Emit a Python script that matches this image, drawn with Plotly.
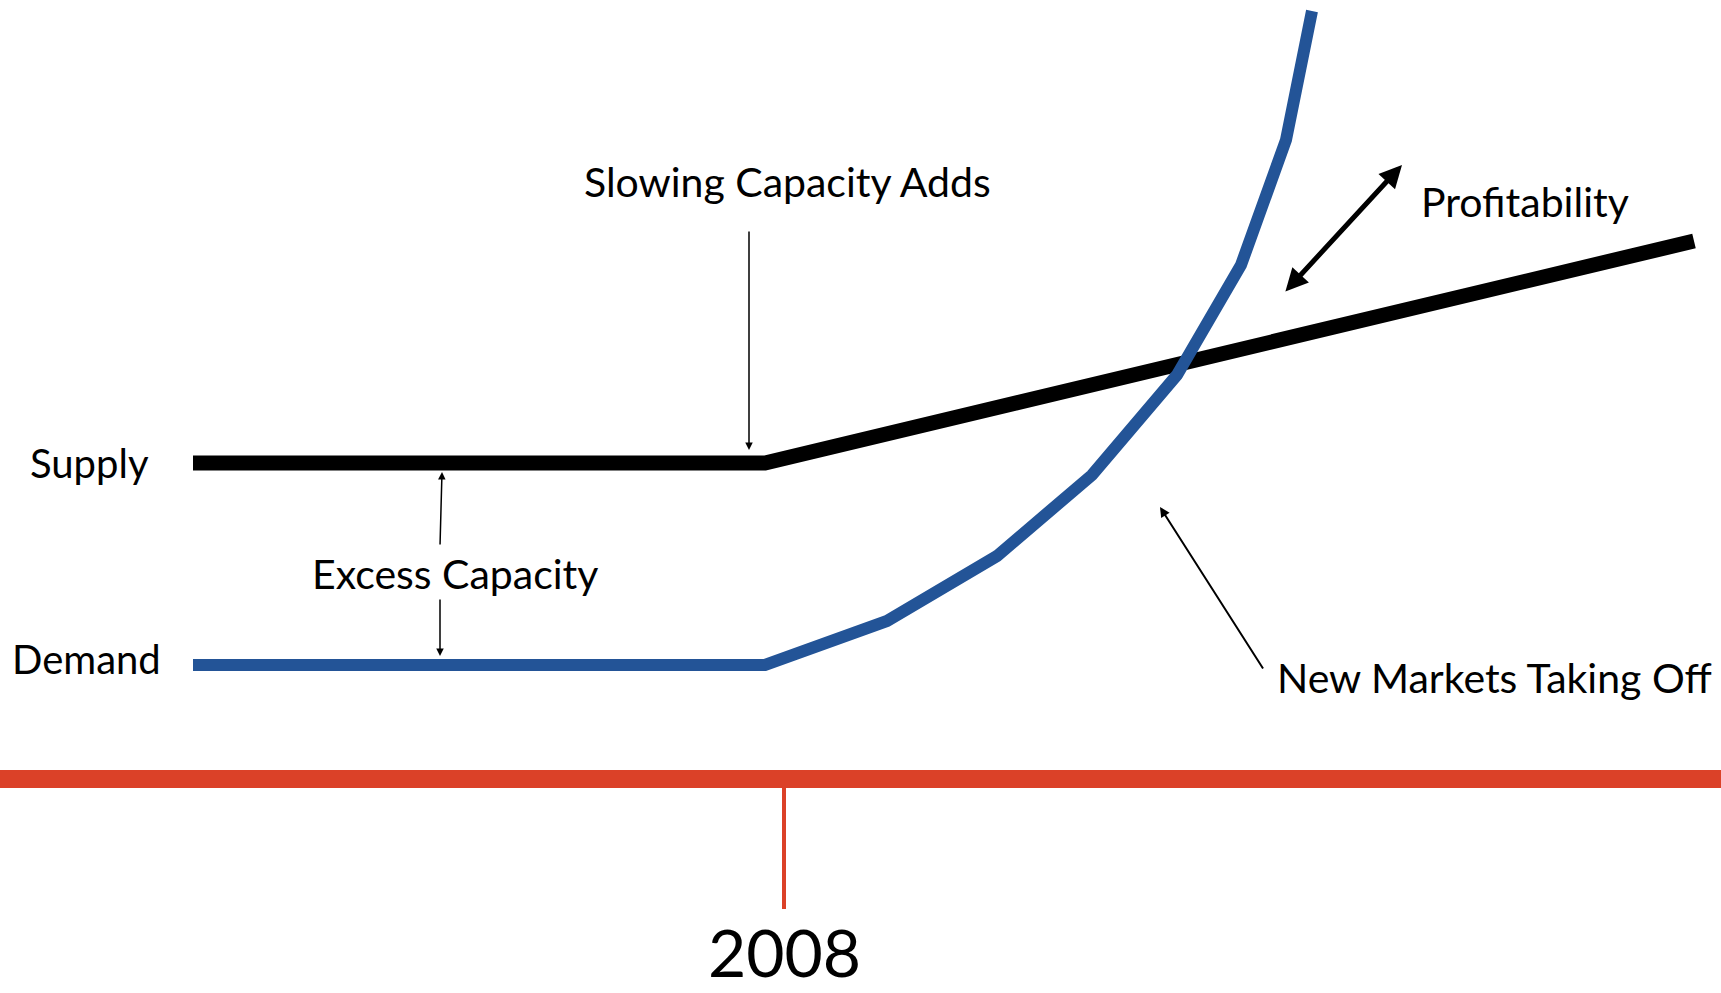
import plotly.graph_objects as go

# Canvas-like coordinate system (x to the right, y downward), in reference units
W, H = 1721, 993

# Series
supply_x = [193, 765, 1694]
supply_y = [463, 463, 241]
demand_x = [193, 765, 887, 997, 1092, 1177, 1241, 1286, 1312]
demand_y = [665, 665, 621, 556, 475, 375, 265, 140, 11]

# Timeline
timeline_x = [0, 1721]
timeline_y = [779, 779]
tick_label = "2008"
tick_x = 784
tick_y = [788, 909]

RED = "#DB4128"
BLUE = "#235497"
FONT = "Lato"

fig = go.Figure()
fig.add_trace(go.Scatter(x=timeline_x, y=timeline_y, mode="lines",
                         line=dict(color=RED, width=18), hoverinfo="skip"))
fig.add_trace(go.Scatter(x=[tick_x, tick_x], y=tick_y, mode="lines",
                         line=dict(color=RED, width=4), hoverinfo="skip"))
fig.add_trace(go.Scatter(x=supply_x, y=supply_y, mode="lines",
                         line=dict(color="black", width=15), hoverinfo="skip"))
fig.add_trace(go.Scatter(x=demand_x, y=demand_y, mode="lines",
                         line=dict(color=BLUE, width=12), hoverinfo="skip"))

def label(text, x, y, size=41, xanchor="center", yanchor="middle", yshift=0):
    fig.add_annotation(x=x, y=y, xref="x", yref="y", text=text, showarrow=False,
                       xanchor=xanchor, yanchor=yanchor, yshift=yshift,
                       font=dict(family=FONT, size=size, color="black"))

label("Supply", 28, 463, size=40, xanchor="left")
label("Demand", 10, 659, size=40, xanchor="left")
label("Excess Capacity", 455, 573)
label("Slowing Capacity Adds", 787, 181)
label("Profitability", 1419, 201, xanchor="left")
label("New Markets Taking Off", 1275, 677, xanchor="left")
label(tick_label, tick_x, 993, size=66, yanchor="bottom")

def arrow(x0, y0, x1, y1, width=1.5, size=1.0, head=2, side="end"):
    fig.add_annotation(x=x1, y=y1, ax=x0, ay=y0, xref="x", yref="y",
                       axref="x", ayref="y", text="", showarrow=True,
                       arrowhead=head, arrowsize=size, arrowwidth=width,
                       arrowcolor="black", arrowside=side)

arrow(749, 230, 749, 450)
arrow(440, 546, 442, 472)
arrow(440, 598, 440, 656)
arrow(1264, 670, 1160, 507, width=2)
arrow(1284, 293, 1402, 165, width=5, size=0.9, side="end+start")

fig.update_layout(
    width=W, height=H,
    margin=dict(l=0, r=0, t=0, b=0),
    paper_bgcolor="white", plot_bgcolor="white",
    showlegend=False,
    xaxis=dict(range=[0, W], visible=False, fixedrange=True),
    yaxis=dict(range=[H, 0], visible=False, fixedrange=True),
)

fig.write_html("out.html",
               config={"displayModeBar": False},
               post_script="document.body.style.margin='0';"
                           "document.body.style.overflow='hidden';")
